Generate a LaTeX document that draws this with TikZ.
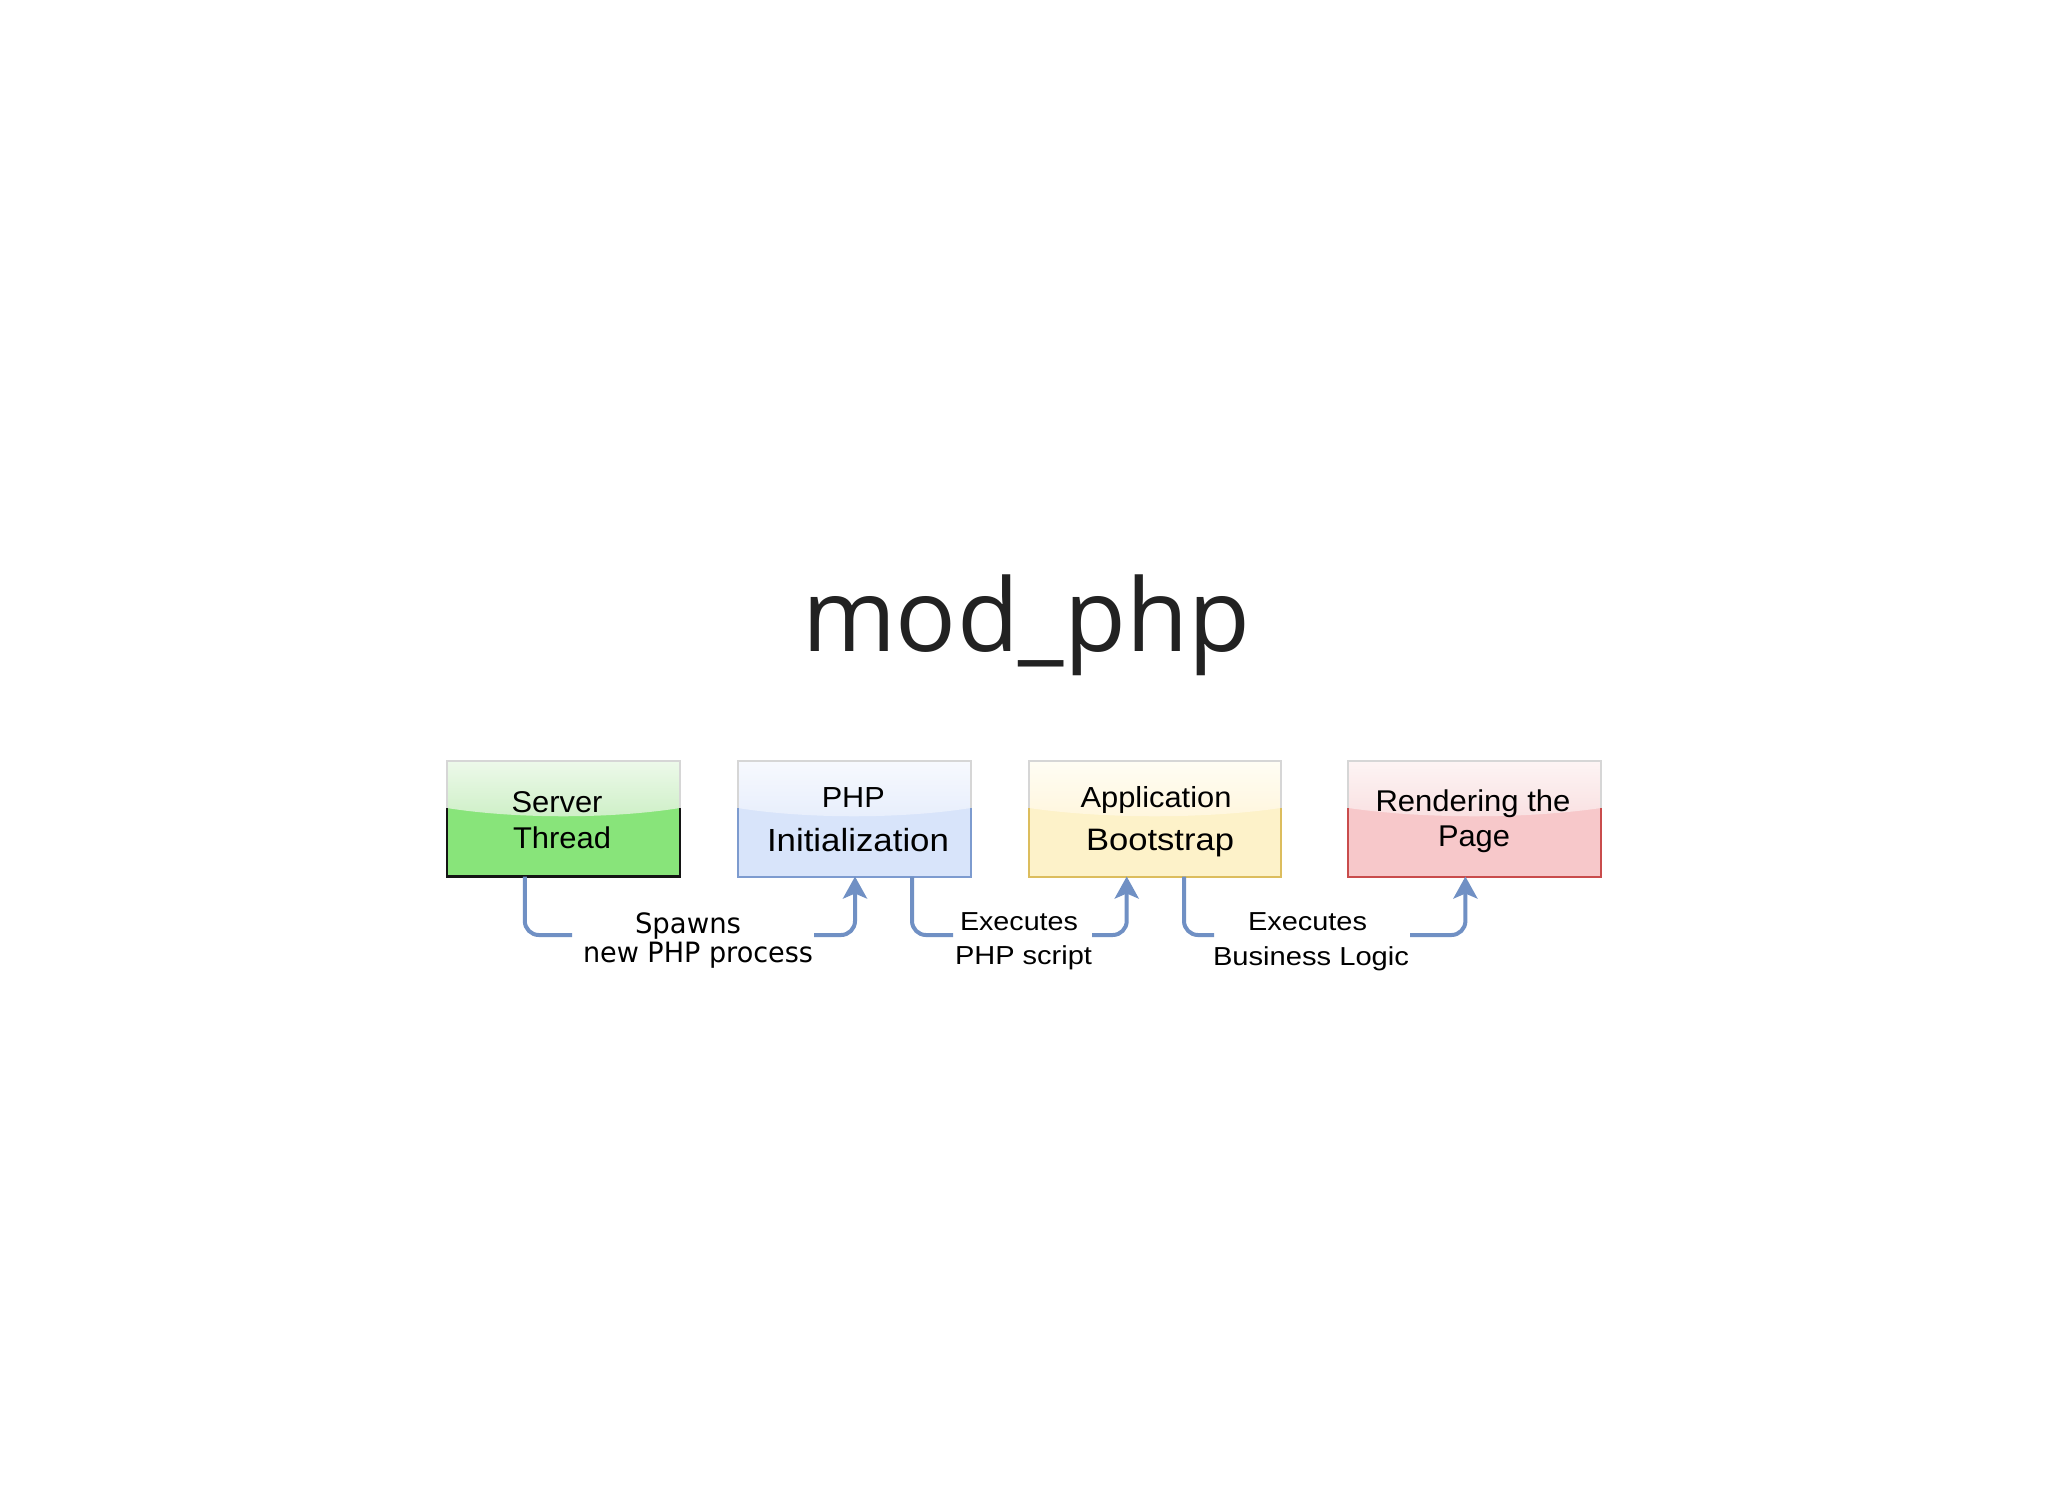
\documentclass[tikz,border=0pt]{standalone}
\usepackage{fontspec}
\setmainfont{Liberation Sans}
\newfontfamily\djv{DejaVu Sans}
\newfontfamily\osans{Open Sans}
\usepackage{graphicx}
\usetikzlibrary{calc,fit,arrows.meta}
\definecolor{arrowblue}{HTML}{7090C4}
\definecolor{titlegray}{HTML}{222222}
\definecolor{gfill}{HTML}{88E47A}
\definecolor{gtop}{HTML}{EDF9EA}
\definecolor{gbot}{HTML}{CDEFC6}
\definecolor{gedge}{HTML}{141414}
\definecolor{bfill}{HTML}{D8E4FA}
\definecolor{btop}{HTML}{F7F9FE}
\definecolor{bbot}{HTML}{E7EEFC}
\definecolor{bedge}{HTML}{7D9BCF}
\definecolor{yfill}{HTML}{FDF2C9}
\definecolor{ytop}{HTML}{FFFDF4}
\definecolor{ybot}{HTML}{FFF6DD}
\definecolor{yedge}{HTML}{DCBD5D}
\definecolor{rfill}{HTML}{F7C8CA}
\definecolor{rtop}{HTML}{FDF4F4}
\definecolor{rbot}{HTML}{F9E0E1}
\definecolor{redge}{HTML}{C94C4C}
\definecolor{glossline}{HTML}{D6D6D6}
\newcommand\fw[2]{\resizebox{#1}{\height}{#2}}
\newcommand\glossbox[8]{%
  \node[fit={(#2,761) (#3,876.5)}, inner sep=0pt, outer sep=0pt] (#1) {};
  \fill[#4] (#1.north west) rectangle (#1.south east);
  \shade[top color=#5, bottom color=#6] (#1.north west) -- (#1.north east)
     -- ($(#1.north east)+(0,47)$)
     .. controls ($(#1.north west)!0.7!(#1.north east)+(0,58)$)
     and ($(#1.north west)!0.3!(#1.north east)+(0,58)$) .. ($(#1.north west)+(0,47)$) -- cycle;
  \draw[glossline, line width=1pt] ($(#1.north west)+(0,47)$) -- (#1.north west) -- (#1.north east) -- ($(#1.north east)+(0,47)$);
  \draw[#7, line width=#8] ($(#1.north west)+(0,47)$) -- (#1.south west) -- (#1.south east) -- ($(#1.north east)+(0,47)$);
}
\tikzset{
  boxtxt/.style={anchor=base, inner sep=0pt, text=black},
  lbltxt/.style={anchor=base, inner sep=0pt, text=black},
  conn/.style={draw=arrowblue, line width=2pt, rounded corners=7pt},
  connarrow/.style={conn, -{Stealth[length=11pt, width=12pt, inset=2.5pt]}},
}
\begin{document}
\begin{tikzpicture}[x=0.5pt, y=-0.5pt]
\fill[white] (0,0) rectangle (2048,1494);
\useasboundingbox (0,0) rectangle (2048,1494);

% title
\node[anchor=base, inner sep=0pt, text=titlegray, font=\osans\fontsize{50.5pt}{60pt}\selectfont] (title) at (1026,651) {mod\_php};

% boxes
\glossbox{st}{446.8}{680}{gfill}{gtop}{gbot}{gedge}{1.3pt}
\glossbox{php}{737.5}{970.7}{bfill}{btop}{bbot}{bedge}{1pt}
\glossbox{app}{1029}{1280.6}{yfill}{ytop}{ybot}{yedge}{1pt}
\glossbox{rend}{1348.4}{1601}{rfill}{rtop}{rbot}{redge}{1pt}

% box texts
\node[boxtxt, font=\fontsize{15pt}{18pt}\selectfont] (st1) at (557,812) {\fw{45.5pt}{Server}};
\node[boxtxt, font=\fontsize{15pt}{18pt}\selectfont] (st2) at (562,848) {\fw{49pt}{Thread}};
\node[boxtxt, font=\fontsize{14.5pt}{18pt}\selectfont] (php1) at (853.3,807.5) {\fw{31.5pt}{PHP}};
\node[boxtxt, font=\fontsize{16pt}{19pt}\selectfont] (php2) at (858,851) {\fw{91pt}{Initialization}};
\node[boxtxt, font=\fontsize{14.5pt}{18pt}\selectfont] (app1) at (1156,807) {\fw{75.5pt}{Application}};
\node[boxtxt, font=\fontsize{15.5pt}{18pt}\selectfont] (app2) at (1160,850.5) {\fw{74pt}{Bootstrap}};
\node[boxtxt, font=\fontsize{15pt}{18pt}\selectfont] (rend1) at (1473,811) {\fw{97.5pt}{Rendering the}};
\node[boxtxt, font=\fontsize{15pt}{18pt}\selectfont] (rend2) at (1474,846.5) {\fw{36pt}{Page}};

% connector labels
\node[lbltxt, font=\djv\fontsize{14pt}{17pt}\selectfont] (l1a) at (688,933) {\fw{53pt}{Spawns}};
\node[lbltxt, font=\djv\fontsize{14pt}{17pt}\selectfont] (l1b) at (698,962) {\fw{115pt}{new PHP process}};
\node[lbltxt, font=\fontsize{13pt}{16pt}\selectfont] (l2a) at (1019,930) {\fw{59pt}{Executes}};
\node[lbltxt, font=\fontsize{13pt}{16pt}\selectfont] (l2b) at (1023.5,964) {\fw{68.5pt}{PHP script}};
\node[lbltxt, font=\fontsize{13pt}{16pt}\selectfont] (l3a) at (1307.5,930) {\fw{59.5pt}{Executes}};
\node[lbltxt, font=\fontsize{13pt}{16pt}\selectfont] (l3b) at (1311,965) {\fw{98pt}{Business Logic}};

% gap ends of connectors
\coordinate (g1a) at (572,935);
\coordinate (g1b) at (814,935);
\coordinate (g2a) at (953,935);
\coordinate (g2b) at (1092,935);
\coordinate (g3a) at (1214,935);
\coordinate (g3b) at (1410,935);

% connectors
\draw[conn] ($(st.south west)+(78,0)$) |- (g1a);
\draw[connarrow] (g1b) -| ($(php.south west)+(117.5,0)$);
\draw[conn] ($(php.south west)+(174.5,0)$) |- (g2a);
\draw[connarrow] (g2b) -| ($(app.south west)+(97.7,0)$);
\draw[conn] ($(app.south west)+(155,0)$) |- (g3a);
\draw[connarrow] (g3b) -| ($(rend.south west)+(117,0)$);
\end{tikzpicture}
\end{document}
